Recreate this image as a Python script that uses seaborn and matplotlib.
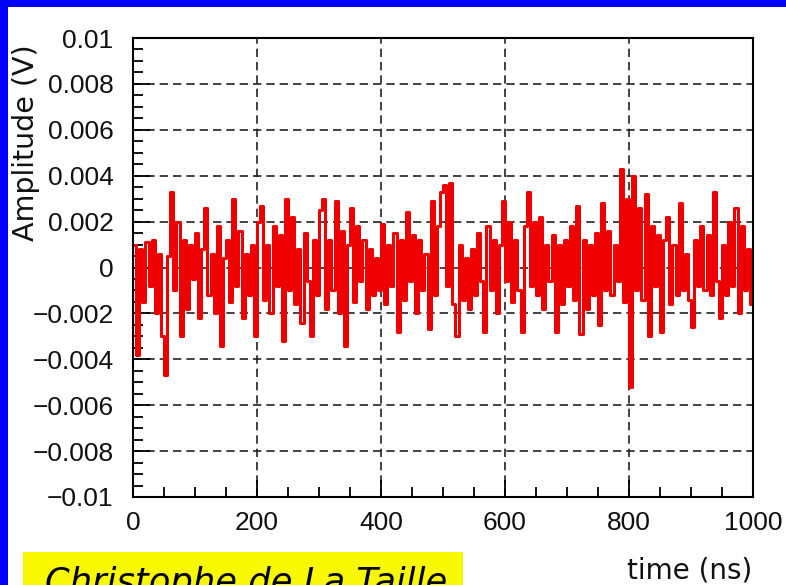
import numpy as np
import pandas as pd
import matplotlib
matplotlib.use("Agg")
import matplotlib.pyplot as plt
from matplotlib.patches import Rectangle
from matplotlib.ticker import MultipleLocator, FixedLocator, FixedFormatter
import seaborn as sns

# ---- data ----
time_step_ns = 5
amplitude_v = [
    0.0010, -0.0038, 0.0008, -0.0015, 0.0011, -0.0008, 0.0012, -0.0020, 0.0006, -0.0030,
    -0.0047, 0.0005, 0.0033, -0.0010, 0.0020, -0.0030, 0.0012, -0.0018, 0.0010, -0.0005,
    0.0015, -0.0022, 0.0008, 0.0026, -0.0012, 0.0006, -0.0020, 0.0018, -0.0034, 0.0004,
    0.0012, -0.0015, 0.0030, -0.0008, 0.0016, -0.0022, 0.0006, -0.0012, 0.0010, -0.0030,
    0.0020, 0.0027, -0.0014, 0.0010, -0.0020, 0.0018, -0.0008, 0.0014, -0.0032, 0.0030,
    -0.0010, 0.0022, -0.0016, 0.0008, -0.0024, 0.0015, -0.0006, -0.0030, 0.0012, -0.0012,
    0.0025, 0.0030, -0.0018, 0.0012, -0.0010, 0.0029, -0.0020, 0.0016, -0.0034, 0.0010,
    0.0026, -0.0015, 0.0018, -0.0006, 0.0012, -0.0018, 0.0008, -0.0012, 0.0004, -0.0010,
    0.0019, -0.0016, 0.0010, -0.0008, 0.0015, -0.0028, 0.0012, -0.0014, 0.0024, -0.0006,
    0.0014, -0.0020, 0.0012, -0.0010, 0.0006, -0.0027, 0.0029, -0.0012, 0.0018, 0.0033,
    0.0036, -0.0008, 0.0037, -0.0016, -0.0030, 0.0010, -0.0014, 0.0004, -0.0018, 0.0008,
    -0.0012, 0.0015, -0.0006, -0.0028, 0.0018, -0.0010, 0.0012, -0.0020, 0.0010, 0.0029,
    -0.0006, 0.0020, -0.0015, 0.0012, -0.0010, -0.0028, 0.0018, 0.0033, -0.0008, 0.0020,
    -0.0012, 0.0022, -0.0018, 0.0010, -0.0006, 0.0014, -0.0028, 0.0010, -0.0016, 0.0012,
    -0.0008, 0.0018, -0.0014, 0.0027, -0.0029, 0.0012, -0.0018, 0.0010, -0.0012, 0.0015,
    -0.0025, 0.0028, -0.0010, 0.0016, -0.0012, 0.0010, -0.0006, 0.0043, -0.0015, 0.0030,
    -0.0052, 0.0040, -0.0010, 0.0026, -0.0014, 0.0032, -0.0030, 0.0018, -0.0008, 0.0014,
    -0.0028, 0.0012, 0.0022, -0.0016, 0.0010, -0.0012, 0.0028, -0.0010, 0.0006, -0.0014,
    -0.0026, 0.0012, -0.0008, 0.0018, -0.0010, 0.0014, -0.0012, 0.0033, -0.0006, -0.0022,
    0.0010, -0.0012, 0.0020, -0.0008, 0.0026, -0.0020, 0.0018, -0.0010, 0.0008, -0.0016,
    0.0000,
]
time_ns = [i * time_step_ns for i in range(len(amplitude_v))]

x_ticks = [0, 200, 400, 600, 800, 1000]
x_tick_labels = ["0", "200", "400", "600", "800", "1000"]
y_ticks = [0.01, 0.008, 0.006, 0.004, 0.002, 0.0, -0.002, -0.004, -0.006, -0.008, -0.01]
y_tick_labels = ["0.01", "0.008", "0.006", "0.004", "0.002", "0",
                 "\u22120.002", "\u22120.004", "\u22120.006", "\u22120.008", "\u22120.01"]
x_label = "time (ns)"
y_label = "Amplitude (V)"
credit = "Christophe de La Taille"

df = pd.DataFrame({"time": time_ns, "amp": amplitude_v})

# ---- figure ----
sns.set_style("ticks")
plt.rcParams["font.family"] = ["Liberation Sans", "DejaVu Sans"]

W, H = 786, 585
fig = plt.figure(figsize=(W / 100, H / 100), dpi=100)
fig.patch.set_facecolor("#0000ff")
fig.patches.append(Rectangle((8 / W, 0), 1 - 8 / W, 1 - 7 / H, transform=fig.transFigure,
                             facecolor="white", edgecolor="none", zorder=-10))

ax = fig.add_axes([133 / W, 1 - 497 / H, (753 - 133) / W, (497 - 38) / H])
ax.set_zorder(2)
ax.set_facecolor("white")

sns.lineplot(data=df, x="time", y="amp", ax=ax, color="#ee0000", linewidth=2.2,
             drawstyle="steps-post", zorder=3)

ax.set_xlim(0, 1000)
ax.set_ylim(-0.01, 0.01)
ax.xaxis.set_major_locator(FixedLocator(x_ticks))
ax.xaxis.set_major_formatter(FixedFormatter(x_tick_labels))
ax.yaxis.set_major_locator(FixedLocator(y_ticks))
ax.yaxis.set_major_formatter(FixedFormatter(y_tick_labels))
ax.xaxis.set_minor_locator(MultipleLocator(50))
ax.yaxis.set_minor_locator(MultipleLocator(0.0005))

ax.tick_params(axis="both", which="major", direction="in", length=12, width=1.3,
               color="black", labelsize=19, labelcolor="#111111")
ax.tick_params(axis="both", which="minor", direction="in", length=7, width=1.3, color="black")
ax.tick_params(axis="y", which="major", pad=14)
ax.tick_params(axis="x", which="major", pad=10)

ax.grid(True, which="major", color="#222222", linestyle=(0, (5, 3)), linewidth=1.2, zorder=1)
ax.set_axisbelow(True)
for s in ax.spines.values():
    s.set_color("black")
    s.set_linewidth(1.5)
    s.set_zorder(4)

ax.set_xlabel("")
ax.set_ylabel("")
fig.text(752 / W, 1 - 571 / H, x_label, ha="right", va="center", fontsize=20,
         color="#111111", family=["DejaVu Sans"])
fig.text(26 / W, 1 - 143 / H, y_label, ha="center", va="center", rotation=90,
         fontsize=20.5, color="#111111", family=["DejaVu Sans"])

# credit box (cut off at the bottom, as in the reference)
fig.patches.append(Rectangle((23 / W, 0), (463 - 23) / W, (585 - 552) / H,
                             transform=fig.transFigure, facecolor="#f8f800",
                             edgecolor="none", zorder=1))
fig.text(45 / W, 1 - 566 / H, credit, ha="left", va="top", fontsize=25.5,
         style="italic", color="black", family=["DejaVu Sans"])

fig.savefig("out.png", dpi=100)
